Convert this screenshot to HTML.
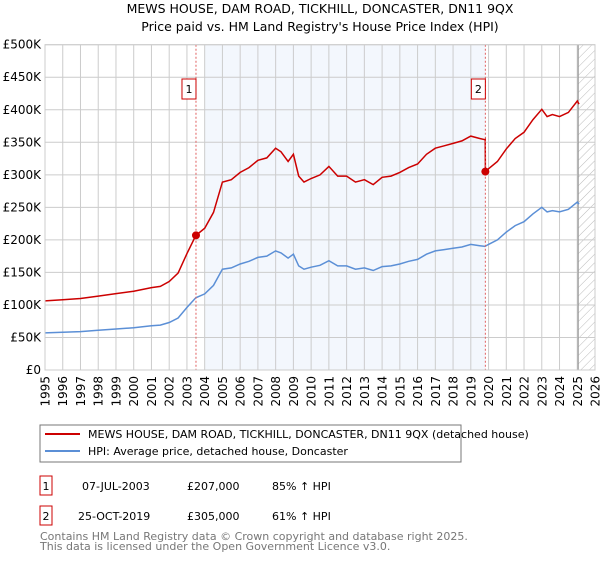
<!DOCTYPE html>
<html><head><meta charset="utf-8"><style>
body{margin:0;background:#fff;font-family:"Liberation Sans","DejaVu Sans",sans-serif;}
svg text{font-family:"DejaVu Sans","Liberation Sans",sans-serif;}
</style></head><body>
<svg width="600" height="560" xmlns="http://www.w3.org/2000/svg">
<text x="320" y="13" text-anchor="middle" font-size="12.5" fill="#000">MEWS HOUSE, DAM ROAD, TICKHILL, DONCASTER, DN11 9QX</text>
<text x="320" y="31" text-anchor="middle" font-size="12.5" fill="#000">Price paid vs. HM Land Registry's House Price Index (HPI)</text>
<defs><pattern id="hatch" width="6" height="6" patternUnits="userSpaceOnUse" patternTransform="rotate(45)"><line x1="0" y1="0" x2="0" y2="6" stroke="#bbb" stroke-width="1"/></pattern></defs>
<g id="plot"></g>
<g id="legend">
<rect x="40" y="425" width="421" height="37" fill="#fff" stroke="#777"/>
<line x1="45" y1="434" x2="80" y2="434" stroke="#cc0000" stroke-width="2"/>
<text x="88" y="438" font-size="11">MEWS HOUSE, DAM ROAD, TICKHILL, DONCASTER, DN11 9QX (detached house)</text>
<line x1="45" y1="451" x2="80" y2="451" stroke="#5b8fd6" stroke-width="2"/>
<text x="88" y="455" font-size="11">HPI: Average price, detached house, Doncaster</text>
</g>
<g font-size="11">
<rect x="40" y="476" width="12" height="19" fill="#fff" stroke="#cc0000"/>
<text x="46" y="490" text-anchor="middle">1</text>
<text x="82" y="490">07-JUL-2003</text>
<text x="187" y="490">£207,000</text>
<text x="272" y="490">85% ↑ HPI</text>
<rect x="40" y="506" width="12" height="19" fill="#fff" stroke="#cc0000"/>
<text x="46" y="520" text-anchor="middle">2</text>
<text x="78" y="520">25-OCT-2019</text>
<text x="187" y="520">£305,000</text>
<text x="272" y="520">61% ↑ HPI</text>
</g>
<text x="40" y="540" font-size="11" fill="#777">Contains HM Land Registry data © Crown copyright and database right 2025.</text>
<text x="40" y="550" font-size="11" fill="#777">This data is licensed under the Open Government Licence v3.0.</text>
</svg>
<script>
const hpiYears=[1995,1996,1997,1998,1999,2000,2001,2001.5,2002,2002.5,2003,2003.5,2004,2004.5,2005,2005.5,2006,2006.5,2007,2007.5,2008,2008.3,2008.7,2009,2009.3,2009.6,2010,2010.5,2011,2011.5,2012,2012.5,2013,2013.5,2014,2014.5,2015,2015.5,2016,2016.5,2017,2017.5,2018,2018.5,2019,2019.5,2019.8,2020,2020.5,2021,2021.5,2022,2022.5,2023,2023.3,2023.6,2024,2024.5,2025,2025.1];
const hpiValues=[57,58,59,61,63,65,68,69,73,80,96,111,117,130,155,157,163,167,173,175,183,180,172,178,160,155,158,161,168,160,160,155,157,153,159,160,163,167,170,178,183,185,187,189,193,191,190,193,200,212,222,228,240,250,243,245,243,247,258,255];
const saleYears=[2003.51,2019.82];
const salePrices=[207,305];
const yTicks=[0,50,100,150,200,250,300,350,400,450,500];
const yTickLabels=["£0","£50K","£100K","£150K","£200K","£250K","£300K","£350K","£400K","£450K","£500K"];
const xTicks=[1995,1996,1997,1998,1999,2000,2001,2002,2003,2004,2005,2006,2007,2008,2009,2010,2011,2012,2013,2014,2015,2016,2017,2018,2019,2020,2021,2022,2023,2024,2025,2026];

const L=45,R=595,T=44.7,B=370;
const xs=y=>L+(y-1995)/(2026-1995)*(R-L);
const ys=v=>B-v/500*(B-T);
const NS="http://www.w3.org/2000/svg";
const g=document.getElementById('plot');
function mk(tag,at){const e=document.createElementNS(NS,tag);for(const k in at)e.setAttribute(k,at[k]);g.appendChild(e);return e;}
function hpiAt(y){for(let i=0;i<hpiYears.length-1;i++){if(y<=hpiYears[i+1]){const t=(y-hpiYears[i])/(hpiYears[i+1]-hpiYears[i]);return hpiValues[i]+t*(hpiValues[i+1]-hpiValues[i]);}}return hpiValues[hpiValues.length-1];}

let e=mk('rect',{x:xs(2004),y:T,width:xs(saleYears[1])-xs(2004),height:B-T,fill:'#eef3fc',opacity:0.7});


e=mk('rect',{x:xs(2025.05),y:T,width:R-xs(2025.05),height:B-T,fill:'url(#hatch)'});


yTicks.forEach((v,i)=>{
 e=mk('line',{x1:L,x2:R,y1:ys(v),y2:ys(v),stroke:'#ccc','stroke-width':1});
 
 
 e=mk('text',{x:41,y:ys(v)+4,'text-anchor':'end','font-size':12});
 e.textContent=yTickLabels[i];
 
 
});
xTicks.forEach(y=>{
 e=mk('line',{x1:xs(y),x2:xs(y),y1:T,y2:B,stroke:'#ccc','stroke-width':1});
 
 
 e=mk('text',{x:0,y:0,'text-anchor':'end','font-size':12,transform:`translate(${xs(y)+4.5},${B+6}) rotate(-90)`});
 e.textContent=y;
 
 
});
e=mk('line',{x1:xs(2025.05),x2:xs(2025.05),y1:T,y2:B,stroke:'#999','stroke-width':1.2});


// HPI line
let d=hpiYears.map((y,i)=>(i?'L':'M')+xs(y).toFixed(1)+','+ys(hpiValues[i]).toFixed(1)).join('');
e=mk('path',{d:d,fill:'none',stroke:'#5b8fd6','stroke-width':1.5});


// property line indexed to sales
const r1=salePrices[0]/hpiAt(saleYears[0]), r2=salePrices[1]/hpiAt(saleYears[1]);
let pts=[];
hpiYears.forEach((y,i)=>{
 if(y<saleYears[1]) pts.push([y,hpiValues[i]*r1]);
});
pts.push([saleYears[1]-0.01,hpiAt(saleYears[1])*r1]);
pts.push([saleYears[1],salePrices[1]]);
hpiYears.forEach((y,i)=>{if(y>saleYears[1]) pts.push([y,hpiValues[i]*r2]);});
d=pts.map((p,i)=>(i?'L':'M')+xs(p[0]).toFixed(1)+','+ys(p[1]).toFixed(1)).join('');
e=mk('path',{d:d,fill:'none',stroke:'#cc0000','stroke-width':1.5});


saleYears.forEach((y,i)=>{
 e=mk('line',{x1:xs(y),x2:xs(y),y1:T,y2:B,stroke:'#e06060','stroke-width':1,'stroke-dasharray':'2,2'});
 
 
 e=mk('circle',{cx:xs(y),cy:ys(salePrices[i]),r:4,fill:'#cc0000'});
 
 
 e=mk('rect',{x:xs(y)-14,y:79,width:14,height:20,fill:'#fff',stroke:'#cc0000'});
 
 
 e=mk('text',{x:xs(y)-7,y:93,'text-anchor':'middle','font-size':11});
 e.textContent=String(i+1);
 
 
});
e=mk('rect',{x:L,y:T,width:R-L,height:B-T,fill:'none',stroke:'#ccc'});


</script>
</body></html>
